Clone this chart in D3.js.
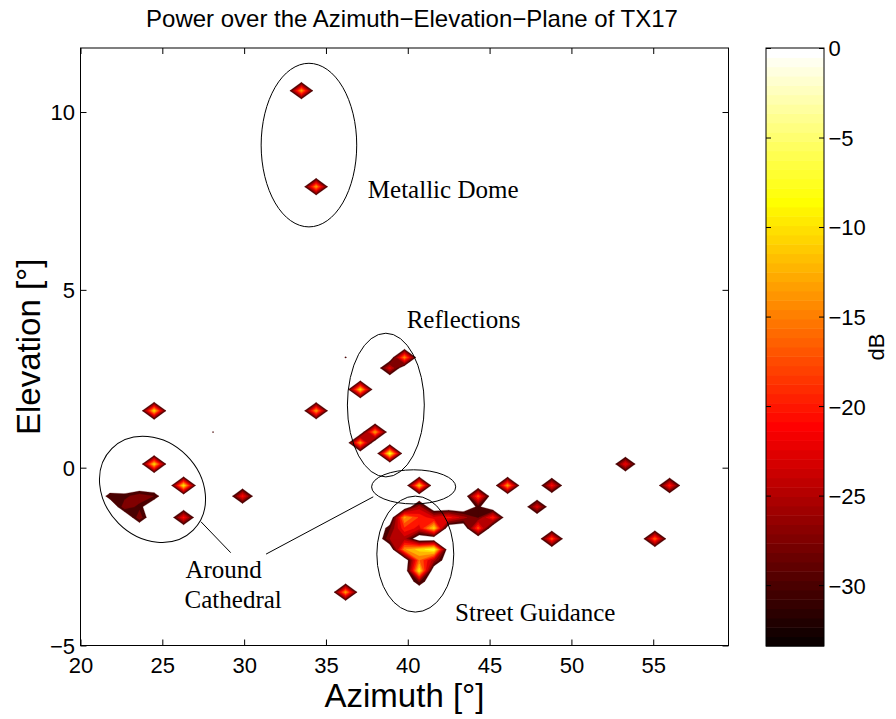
<!DOCTYPE html>
<html>
<head>
<meta charset="utf-8">
<script src="https://cdn.jsdelivr.net/npm/d3@7"></script>
<style>
  body { margin: 0; background: #fff; }
  svg { display: block; }
  .sans { font-family: "Liberation Sans", Arial, Helvetica, sans-serif; }
  .serif { font-family: "Liberation Serif", "Times New Roman", serif; }
</style>
</head>
<body>
<svg id="chart" width="896" height="719"></svg>
<script>
// Sampling grid of the angular power spectrum (degrees)
const azimuthGrid = d3.range(45).map(i => +(20 + 0.9 * i).toFixed(1));
const elevationGrid = d3.range(57).map(j => +(-5 + 0.3 * j).toFixed(1));
const noiseFloorDb = -35;

// Detected power per grid cell: [azimuth °, elevation °, power dB]
const domePeaks = [
  [33.5, 10.6, -12], [34.4, 7.9, -12]
];
const reflectionPeaks = [
  [37.1, 2.2, -9], [38.9, 2.8, -21], [39.8, 3.1, -13],
  [37.1, 0.7, -12], [38.0, 1.0, -12], [38.9, 0.4, -6],
  [36.2, 3.1, -29.7]
];
const cathedralPeaks = [
  [24.5, 0.1, -9], [26.3, -0.5, -8], [26.3, -1.4, -19],
  [21.8, -0.8, -28], [22.7, -0.8, -28.5], [23.6, -0.8, -25.5], [24.5, -0.8, -27.6],
  [22.7, -1.1, -25.5], [23.6, -1.1, -28.5], [23.6, -1.4, -25.5]
];
const streetPeaks = [
  [40.7, -0.5, -10],
  [40.7, -1.1, -24],
  [39.8, -1.4, -12], [40.7, -1.4, -18], [41.6, -1.4, -22],
  [38.9, -1.7, -28], [39.8, -1.7, -18], [40.7, -1.7, -21], [41.6, -1.7, -9],
  [38.9, -2.0, -25], [39.8, -2.0, -24],
  [39.8, -2.3, -13], [40.7, -2.3, -9], [41.6, -2.3, -5],
  [40.7, -2.6, -15], [41.6, -2.6, -24],
  [40.7, -2.9, -8], [40.7, -3.2, -27]
];
const eastPeaks = [
  [42.5, -1.4, -19], [43.4, -1.4, -24], [44.3, -1.4, -28], [45.2, -1.4, -18],
  [44.3, -1.1, -29], [44.3, -0.8, -16], [44.3, -1.7, -16],
  [46.1, -0.5, -12], [48.8, -0.5, -19], [47.9, -1.1, -21], [48.8, -2.0, -16],
  [53.3, 0.1, -20], [56.0, -0.5, -18], [55.1, -2.0, -15]
];
const scatteredPeaks = [
  [24.5, 1.6, -9], [34.4, 1.6, -12], [29.9, -0.8, -19],
  [36.2, -3.5, -12], [28.1, 1.0, -29.8]
];

// Contour levels (dB) and colour axis
const contourLevels = [-30, -27.5, -25, -22.5, -20, -17.5, -15, -12.5, -10, -7.5, -5, -2.5];
const colorRange = [-33.4, 0];
const colorTicks = [0, -5, -10, -15, -20, -25, -30];
const azimuthTicks = [20, 25, 30, 35, 40, 45, 50, 55];
const elevationTicks = [-5, 0, 5, 10];

// Annotations (data coordinates)
const ellipses = [
  { az: 33.96, el: 9.07, raz: 2.92, rel: 2.30 },
  { az: 38.66, el: 1.76, raz: 2.35, rel: 2.02 },
  { az: 40.36, el: -0.54, raz: 2.57, rel: 0.48 },
  { az: 40.46, el: -2.43, raz: 2.35, rel: 1.63 }
];
const tiltedEllipse = { az: 24.40, el: -0.61, a: 57.6, b: 48, angle: 45 };
const leaders = [
  [[27.36, -1.52], [29.18, -2.39]],
  [[37.89, -0.82], [31.34, -2.43]]
];
const notes = [
  { text: "Metallic Dome", az: 37.56, el: 7.58 },
  { text: "Reflections", az: 39.93, el: 3.94 },
  { text: "Around", az: 26.41, el: -3.11 },
  { text: "Cathedral", az: 26.36, el: -3.95 },
  { text: "Street Guidance", az: 42.89, el: -4.31 }
];

// MATLAB "hot" colormap with 64 entries
function hotColor(k) {
  const n = 64, m = 24;
  const r = k < m ? (k + 1) / m : 1;
  const g = k < m ? 0 : (k < 2 * m ? (k - m + 1) / m : 1);
  const b = k < 2 * m ? 0 : (k - 2 * m + 1) / (n - 2 * m);
  return d3.rgb(r * 255, g * 255, b * 255).formatHex();
}
function colorOf(v) {
  const t = (v - colorRange[0]) / (colorRange[1] - colorRange[0]);
  return hotColor(Math.max(0, Math.min(63, Math.floor(t * 64))));
}

const svg = d3.select("#chart");
const plot = { left: 80.5, right: 728.5, top: 48, bottom: 645.5 };
const x = d3.scaleLinear().domain([azimuthGrid[0], azimuthGrid[azimuthGrid.length - 1]]).range([plot.left, plot.right]);
const y = d3.scaleLinear().domain([elevationGrid[0], elevationGrid[elevationGrid.length - 1]]).range([plot.bottom, plot.top]);

// Fill the power grid
const nx = azimuthGrid.length, ny = elevationGrid.length;
const grid = new Array(nx * ny).fill(noiseFloorDb);
const stepAz = azimuthGrid[1] - azimuthGrid[0], stepEl = elevationGrid[1] - elevationGrid[0];
[domePeaks, reflectionPeaks, cathedralPeaks, streetPeaks, eastPeaks, scatteredPeaks].flat()
  .forEach(([az, el, db]) => {
    const i = Math.round((az - azimuthGrid[0]) / stepAz);
    const j = Math.round((el - elevationGrid[0]) / stepEl);
    grid[j * nx + i] = db;
  });

// Filled region {power >= level}, marching squares with linear edge interpolation;
// saddle cells are resolved with the cell-centre mean.
function levelPath(level) {
  const p = d3.path();
  for (let j = 0; j < ny - 1; j++) {
    for (let i = 0; i < nx - 1; i++) {
      const c = [[i, j], [i + 1, j], [i + 1, j + 1], [i, j + 1]]
        .map(([a, b]) => ({ x: azimuthGrid[a], y: elevationGrid[b], v: grid[b * nx + a] }));
      const up = c.map(d => d.v >= level);
      const count = up.filter(Boolean).length;
      if (count === 0) continue;
      const cross = (a, b) => {
        const t = (level - a.v) / (b.v - a.v);
        return { x: a.x + t * (b.x - a.x), y: a.y + t * (b.y - a.y) };
      };
      let polys;
      const saddle = count === 2 && up[0] === up[2];
      if (saddle && d3.mean(c, d => d.v) < level) {
        polys = [0, 1, 2, 3].filter(k => up[k])
          .map(k => [cross(c[(k + 3) % 4], c[k]), c[k], cross(c[k], c[(k + 1) % 4])]);
      } else {
        const poly = [];
        for (let k = 0; k < 4; k++) {
          const k2 = (k + 1) % 4;
          if (up[k]) poly.push(c[k]);
          if (up[k] !== up[k2]) poly.push(cross(c[k], c[k2]));
        }
        polys = [poly];
      }
      polys.forEach(poly => {
        poly.forEach((pt, m) => m ? p.lineTo(x(pt.x), y(pt.y)) : p.moveTo(x(pt.x), y(pt.y)));
        p.closePath();
      });
    }
  }
  return p.toString();
}

svg.append("clipPath").attr("id", "plotClip")
  .append("rect").attr("x", plot.left).attr("y", plot.top)
  .attr("width", plot.right - plot.left).attr("height", plot.bottom - plot.top);

const contourG = svg.append("g").attr("clip-path", "url(#plotClip)");
contourLevels.forEach(level => {
  contourG.append("path")
    .attr("d", levelPath(level))
    .attr("fill", colorOf(level))
    .attr("stroke", colorOf(level))
    .attr("stroke-width", 0.3)
    .attr("stroke-linejoin", "miter");
});

// Axes: MATLAB-style box with inward ticks
const tickLen = 6;
const fontTick = 22;
const axB = svg.append("g").attr("class", "sans").attr("transform", `translate(0,${plot.bottom})`)
  .call(d3.axisBottom(x).tickValues(azimuthTicks).tickSize(-tickLen).tickSizeOuter(0).tickFormat(d3.format("d")));
const axT = svg.append("g").attr("transform", `translate(0,${plot.top})`)
  .call(d3.axisTop(x).tickValues(azimuthTicks).tickSize(-tickLen).tickSizeOuter(0).tickFormat(""));
const axL = svg.append("g").attr("class", "sans").attr("transform", `translate(${plot.left},0)`)
  .call(d3.axisLeft(y).tickValues(elevationTicks).tickSize(-tickLen).tickSizeOuter(0).tickFormat(d3.format("d")));
const axR = svg.append("g").attr("transform", `translate(${plot.right},0)`)
  .call(d3.axisRight(y).tickValues(elevationTicks).tickSize(-tickLen).tickSizeOuter(0).tickFormat(""));
[axB, axT, axL, axR].forEach(g => {
  g.select(".domain").remove();
  g.selectAll("line").attr("stroke", "#000").attr("stroke-width", 1);
});
axB.selectAll("text").attr("y", 12).attr("dy", "0.71em").attr("font-size", fontTick).attr("fill", "#000").attr("font-family", null);
axL.selectAll("text").attr("x", -5.5).attr("dy", "0.36em").attr("font-size", fontTick).attr("fill", "#000").attr("font-family", null);

svg.append("rect")
  .attr("x", plot.left).attr("y", plot.top)
  .attr("width", plot.right - plot.left).attr("height", plot.bottom - plot.top)
  .attr("fill", "none").attr("stroke", "#000").attr("stroke-width", 1);

// Annotations
const annG = svg.append("g").attr("fill", "none").attr("stroke", "#000").attr("stroke-width", 1);
ellipses.forEach(e => {
  annG.append("ellipse")
    .attr("cx", x(e.az)).attr("cy", y(e.el))
    .attr("rx", x(e.az + e.raz) - x(e.az)).attr("ry", y(e.el) - y(e.el + e.rel));
});
annG.append("ellipse")
  .attr("transform", `translate(${x(tiltedEllipse.az)},${y(tiltedEllipse.el)}) rotate(${tiltedEllipse.angle})`)
  .attr("rx", tiltedEllipse.a).attr("ry", tiltedEllipse.b);
leaders.forEach(([a, b]) => {
  annG.append("line").attr("x1", x(a[0])).attr("y1", y(a[1])).attr("x2", x(b[0])).attr("y2", y(b[1]));
});
svg.append("g").attr("class", "serif").selectAll("text").data(notes).join("text")
  .attr("x", d => x(d.az)).attr("y", d => y(d.el))
  .attr("font-size", 25).attr("fill", "#000")
  .text(d => d.text);

// Titles
svg.append("text").attr("class", "sans")
  .attr("x", 412).attr("y", 27).attr("text-anchor", "middle").attr("font-size", 24)
  .text("Power over the Azimuth\u2212Elevation\u2212Plane of TX17");
svg.append("text").attr("class", "sans")
  .attr("x", (plot.left + plot.right) / 2).attr("y", 707).attr("text-anchor", "middle").attr("font-size", 33)
  .text("Azimuth [°]");
svg.append("text").attr("class", "sans")
  .attr("transform", `translate(40,${(plot.top + plot.bottom) / 2}) rotate(-90)`)
  .attr("text-anchor", "middle").attr("font-size", 33)
  .text("Elevation [°]");

// Colorbar
const cb = { left: 766, right: 824, top: 48, bottom: 646 };
const cy = d3.scaleLinear().domain(colorRange).range([cb.bottom, cb.top]);
const bandStep = (colorRange[1] - colorRange[0]) / 64;
svg.append("g").selectAll("rect").data(d3.range(64)).join("rect")
  .attr("x", cb.left).attr("width", cb.right - cb.left)
  .attr("y", k => cy(colorRange[0] + (k + 1) * bandStep))
  .attr("height", k => cy(colorRange[0] + k * bandStep) - cy(colorRange[0] + (k + 1) * bandStep) + 0.5)
  .attr("fill", k => hotColor(k));
const cbAxR = svg.append("g").attr("class", "sans").attr("transform", `translate(${cb.right},0)`)
  .call(d3.axisRight(cy).tickValues(colorTicks).tickSize(-5).tickSizeOuter(0).tickFormat(d3.format("d")));
const cbAxL = svg.append("g").attr("transform", `translate(${cb.left},0)`)
  .call(d3.axisLeft(cy).tickValues(colorTicks).tickSize(-5).tickSizeOuter(0).tickFormat(""));
[cbAxR, cbAxL].forEach(g => {
  g.select(".domain").remove();
  g.selectAll("line").attr("stroke", "#000");
});
cbAxR.selectAll("text").attr("x", 4.5).attr("dy", "0.36em").attr("font-size", fontTick).attr("fill", "#000").attr("font-family", null);
svg.append("rect")
  .attr("x", cb.left).attr("y", cb.top)
  .attr("width", cb.right - cb.left).attr("height", cb.bottom - cb.top)
  .attr("fill", "none").attr("stroke", "#000").attr("stroke-width", 1);
svg.append("text").attr("class", "sans")
  .attr("transform", `translate(884,${(cb.top + cb.bottom) / 2}) rotate(-90)`)
  .attr("text-anchor", "middle").attr("font-size", 22)
  .text("dB");
</script>
</body>
</html>
